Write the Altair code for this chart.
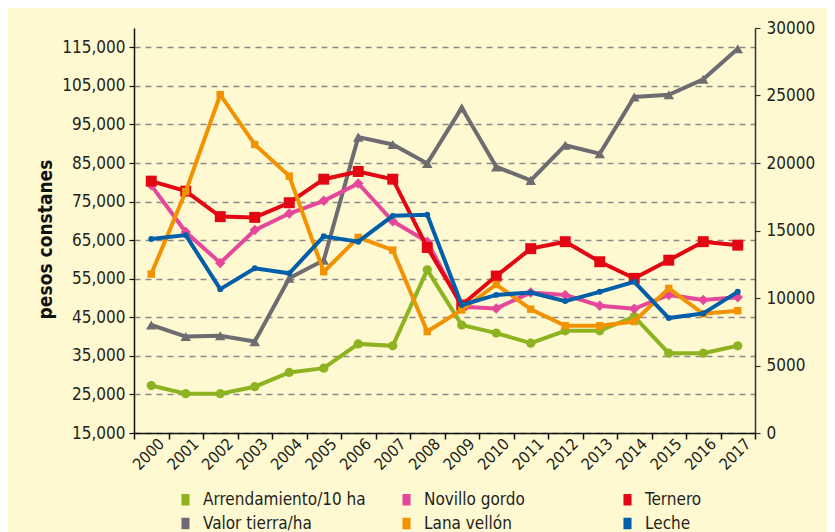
import altair as alt
import pandas as pd

years = [str(y) for y in range(2000, 2018)]

series = ["Arrendamiento/10 ha", "Novillo gordo", "Ternero",
          "Valor tierra/ha", "Lana vellón", "Leche"]
colors = ["#8DB320", "#E5489A", "#E30613", "#6E6C70", "#F39200", "#005FA8"]

arrendamiento = [27300, 25200, 25200, 27000, 30700, 31800, 38100, 37600, 57300,
                 43000, 40900, 38300, 41500, 41500, 45200, 35700, 35700, 37600]
novillo = [79200, 67100, 59100, 67600, 71900, 75200, 79700, 69900, 64600,
           47700, 47300, 51400, 50800, 48000, 47200, 50800, 49500, 50200]
ternero = [80300, 77700, 71100, 70900, 74700, 80800, 82800, 80800, 63100,
           48200, 55700, 62800, 64600, 59400, 55100, 59800, 64600, 63700]
valor = [43000, 40000, 40200, 38700, 55100, 59800, 91700, 89800, 84900,
         99300, 84000, 80500, 89600, 87400, 102100, 102700, 106700, 114600]
lana = [56200, 77600, 102700, 89800, 81600, 56800, 65700, 62400, 41300,
        46900, 53500, 47100, 42800, 42800, 43900, 52500, 45900, 46700]
leche = [65300, 66300, 52300, 57700, 56400, 66000, 64600, 71300, 71600,
         48200, 50800, 51400, 49200, 51600, 54200, 44800, 46000, 51600]

left_ticks = [15000, 25000, 35000, 45000, 55000, 65000, 75000, 85000, 95000, 105000, 115000]
right_ticks = [0, 5000, 10000, 15000, 20000, 25000, 30000]

values = {
    "Arrendamiento/10 ha": arrendamiento,
    "Novillo gordo": novillo,
    "Ternero": ternero,
    "Valor tierra/ha": valor,
    "Lana vellón": lana,
    "Leche": leche,
}
rows = []
for s in series:
    for y, v in zip(years, values[s]):
        rows.append({"year": y, "serie": s, "v": v})
df = pd.DataFrame(rows)

FONT = "DejaVu Sans Condensed"
BG = "#FFF9D1"

xscale = alt.Scale(type="band", domain=years, paddingInner=0, paddingOuter=0)
yscale = alt.Scale(domain=[15000, 120000], nice=False, zero=False)

x_axis = alt.Axis(title=None, labelAngle=-45, labelAlign="right", labelBaseline="middle",
                  labelFontSize=16, labelFont=FONT, labelColor="#231F20", labelOffset=10,
                  tickBand="extent", tickSize=6, tickColor="#111", tickWidth=1.5,
                  domainColor="#111", domainWidth=1.5, labelPadding=2, grid=False, zindex=2)
y_axis = alt.Axis(title="pesos constanes", titleFont=FONT, titleFontSize=19,
                  titleFontWeight="bold", titleColor="#111", titlePadding=6, titleY=211,
                  values=left_ticks, format=",d", labelFont=FONT, labelFontSize=17,
                  labelColor="#231F20", labelPadding=4, tickSize=5, tickColor="#111",
                  tickWidth=1.2, domainColor="#111", domainWidth=1.5,
                  grid=True, gridDash=[6, 5], gridColor="#8A8A8A", gridWidth=1.5)

enc_x = alt.X("year:N", scale=xscale, bandPosition=0.5, axis=x_axis)
enc_y = alt.Y("v:Q", scale=yscale, axis=y_axis)

order = ["Valor tierra/ha", "Arrendamiento/10 ha", "Novillo gordo", "Ternero", "Lana vellón", "Leche"]
marker = {
    "Arrendamiento/10 ha": ("circle", 85),
    "Novillo gordo": ("diamond", 110),
    "Ternero": ("square", 120),
    "Valor tierra/ha": ("triangle-up", 110),
    "Lana vellón": ("square", 55),
    "Leche": ("circle", 35),
}
cmap = dict(zip(series, colors))

base = alt.Chart(df)
layers = []
for s in order:
    sub = base.transform_filter(alt.datum.serie == s)
    line = sub.mark_line(strokeWidth=4, color=cmap[s]).encode(x=enc_x, y=enc_y)
    shp, sz = marker[s]
    pts = sub.mark_point(filled=True, opacity=1, shape=shp, size=sz, color=cmap[s]).encode(
        x=enc_x, y=enc_y)
    layers += [line, pts]

legend = base.mark_point(filled=True, opacity=1, size=1).encode(
    x=enc_x, y=enc_y,
    color=alt.Color("serie:N", scale=alt.Scale(domain=series, range=colors),
                    legend=alt.Legend(title=None, orient="none", legendX=43, legendY=463,
                                      direction="horizontal", columns=3, gridAlign="all",
                                      columnPadding=32, rowPadding=6,
                                      symbolType="M-0.7,-1H0.7V1H-0.7Z", symbolSize=132,
                                      symbolStrokeWidth=0, labelFont=FONT, labelFontSize=17,
                                      labelColor="#231F20", labelOffset=9, padding=0,
                                      labelLimit=300)))
layers.insert(0, legend)

left = alt.layer(*layers)

right_df = pd.DataFrame({"r": right_ticks})
right = alt.Chart(right_df).mark_point(opacity=0).encode(
    y=alt.Y("r:Q", scale=alt.Scale(domain=[0, 30000], nice=False),
            axis=alt.Axis(orient="right", title=None, values=right_ticks, format="d",
                          labelFont=FONT, labelFontSize=17, labelColor="#231F20",
                          labelPadding=6, tickSize=5, tickColor="#333", tickWidth=1.2,
                          domainColor="#333", domainWidth=1.5, grid=False)))

chart = alt.layer(left, right).resolve_scale(y="independent").properties(
    width=621, height=405, background=BG,
    autosize=alt.AutoSizeParams(type="none"),
    padding={"left": 126, "top": 20, "right": 72, "bottom": 100},
).configure_view(stroke=None)

chart.save("out.html", embed_options={"renderer": "svg", "actions": False})
